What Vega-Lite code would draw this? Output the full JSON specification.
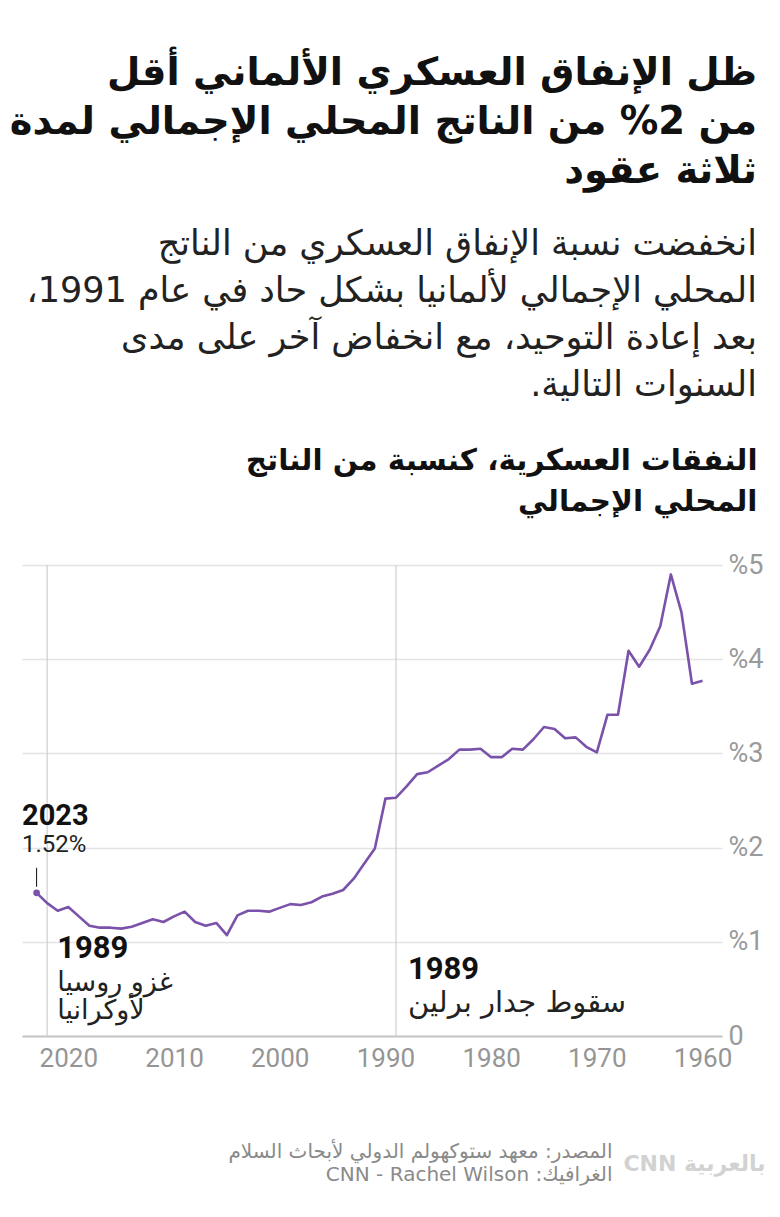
{
  "$schema": "https://vega.github.io/schema/vega-lite/v6.json",
  "width": 700,
  "height": 471,
  "autosize": {"type": "none"},
  "padding": {"left": 22, "top": 565, "right": 58, "bottom": 181},
  "background": "#ffffff",
  "config": {
    "view": {"stroke": null},
    "axisY": {
      "grid": true, "gridColor": "#e4e4e4", "gridWidth": 1.5, "ticks": false, "domain": false,
      "labelFont": "Roboto", "labelFontSize": 27, "labelColor": "#9a9a9a", "labelPadding": 6
    }
  },
  "title": {
    "text": [
      "\u200fظل الإنفاق العسكري الألماني أقل\u200f",
      "\u200fمن 2% من الناتج المحلي الإجمالي لمدة\u200f",
      "\u200fثلاثة عقود\u200f"
    ],
    "subtitle": [
      "\u200fانخفضت نسبة الإنفاق العسكري من الناتج\u200f",
      "\u200fالمحلي الإجمالي لألمانيا بشكل حاد في عام 1991،\u200f",
      "\u200fبعد إعادة التوحيد، مع انخفاض آخر على مدى\u200f",
      "\u200fالسنوات التالية.\u200f"
    ],
    "anchor": "end",
    "frame": "group",
    "align": "right",
    "dx": 35,
    "offset": 41,
    "font": "DejaVu Sans",
    "fontSize": 38.5,
    "fontWeight": "bold",
    "color": "#111111",
    "lineHeight": 49,
    "subtitleFont": "DejaVu Sans",
    "subtitleFontSize": 35,
    "subtitleFontWeight": "normal",
    "subtitleColor": "#222222",
    "subtitleLineHeight": 47,
    "subtitlePadding": 36
  },
  "datasets": {
    "spending": [
      {"year": 1960, "pct": 3.77}, {"year": 1961, "pct": 3.74}, {"year": 1962, "pct": 4.50},
      {"year": 1963, "pct": 4.90}, {"year": 1964, "pct": 4.35}, {"year": 1965, "pct": 4.10},
      {"year": 1966, "pct": 3.92}, {"year": 1967, "pct": 4.09}, {"year": 1968, "pct": 3.41},
      {"year": 1969, "pct": 3.41}, {"year": 1970, "pct": 3.01}, {"year": 1971, "pct": 3.07},
      {"year": 1972, "pct": 3.17}, {"year": 1973, "pct": 3.16}, {"year": 1974, "pct": 3.26},
      {"year": 1975, "pct": 3.28}, {"year": 1976, "pct": 3.15}, {"year": 1977, "pct": 3.04},
      {"year": 1978, "pct": 3.05}, {"year": 1979, "pct": 2.96}, {"year": 1980, "pct": 2.96},
      {"year": 1981, "pct": 3.05}, {"year": 1982, "pct": 3.04}, {"year": 1983, "pct": 3.04},
      {"year": 1984, "pct": 2.94}, {"year": 1985, "pct": 2.87}, {"year": 1986, "pct": 2.80},
      {"year": 1987, "pct": 2.78}, {"year": 1988, "pct": 2.65}, {"year": 1989, "pct": 2.53},
      {"year": 1990, "pct": 2.52}, {"year": 1991, "pct": 1.99}, {"year": 1992, "pct": 1.83},
      {"year": 1993, "pct": 1.67}, {"year": 1994, "pct": 1.55}, {"year": 1995, "pct": 1.51},
      {"year": 1996, "pct": 1.48}, {"year": 1997, "pct": 1.42}, {"year": 1998, "pct": 1.39},
      {"year": 1999, "pct": 1.40}, {"year": 2000, "pct": 1.36}, {"year": 2001, "pct": 1.32},
      {"year": 2002, "pct": 1.33}, {"year": 2003, "pct": 1.33}, {"year": 2004, "pct": 1.28},
      {"year": 2005, "pct": 1.07}, {"year": 2006, "pct": 1.20}, {"year": 2007, "pct": 1.17},
      {"year": 2008, "pct": 1.21}, {"year": 2009, "pct": 1.32}, {"year": 2010, "pct": 1.27},
      {"year": 2011, "pct": 1.21}, {"year": 2012, "pct": 1.24}, {"year": 2013, "pct": 1.20},
      {"year": 2014, "pct": 1.16}, {"year": 2015, "pct": 1.14}, {"year": 2016, "pct": 1.15},
      {"year": 2017, "pct": 1.15}, {"year": 2018, "pct": 1.17}, {"year": 2019, "pct": 1.27},
      {"year": 2020, "pct": 1.37}, {"year": 2021, "pct": 1.33}, {"year": 2022, "pct": 1.41},
      {"year": 2023, "pct": 1.52}
    ],
    "events": [
      {"year": 2022, "tag": "1989", "desc": ["غزو روسيا", "لأوكرانيا"]},
      {"year": 1989, "tag": "1989", "desc": ["سقوط جدار برلين"]}
    ]
  },
  "resolve": {"axis": {"x": "independent", "y": "independent"}},
  "layer": [
    {
      "data": {"name": "events"},
      "mark": {"type": "rule", "color": "#cfcfcf", "strokeWidth": 1.2},
      "encoding": {
        "x": {
          "field": "year", "type": "quantitative",
          "scale": {"domain": [1958.16, 2024.38], "reverse": true, "nice": false, "zero": false},
          "axis": {
            "orient": "top", "labels": false, "ticks": false, "domain": false, "grid": false,
            "title": ["\u200fالنفقات العسكرية، كنسبة من الناتج\u200f", "\u200fالمحلي الإجمالي\u200f"],
            "titleFont": "DejaVu Sans", "titleFontSize": 29.5, "titleFontWeight": "bold",
            "titleColor": "#111111", "titleAlign": "right", "titleAnchor": "end",
            "titleX": 735, "titleY": -96, "titleBaseline": "alphabetic", "titleLineHeight": 41
          }
        }
      }
    },
    {
      "data": {"name": "spending"},
      "mark": {"type": "line", "color": "#7a52aa", "strokeWidth": 2.6, "strokeJoin": "round"},
      "encoding": {
        "x": {
          "field": "year", "type": "quantitative",
          "scale": {"domain": [1958.16, 2024.38], "reverse": true, "nice": false, "zero": false},
          "axis": {
            "orient": "bottom", "values": [2020, 2010, 2000, 1990, 1980, 1970, 1960], "format": "d",
            "labelFont": "Roboto", "labelFontSize": 26, "labelColor": "#959595", "labelPadding": 9,
            "labelFlush": false, "labelOverlap": false,
            "ticks": false, "grid": false, "domain": true, "domainColor": "#c6c6c6", "domainWidth": 2,
            "title": ["المصدر: معهد ستوكهولم الدولي لأبحاث السلام", "\u202bالغرافيك: CNN - Rachel Wilson\u202c"],
            "titleFont": "DejaVu Sans", "titleFontSize": 20, "titleFontWeight": "normal",
            "titleColor": "#8a8a8a", "titleAlign": "right", "titleAnchor": "end",
            "titleX": 590, "titleY": 121, "titleBaseline": "alphabetic", "titleLineHeight": 23
          }
        },
        "y": {
          "field": "pct", "type": "quantitative",
          "scale": {"domain": [0, 5], "nice": false, "zero": true},
          "axis": {
            "orient": "right", "values": [0, 1, 2, 3, 4, 5], "title": null,
            "labelExpr": "datum.value == 0 ? '0' : '%' + datum.value"
          }
        }
      }
    },
    {
      "data": {"name": "spending"},
      "transform": [{"filter": "datum.year == 2023"}],
      "mark": {"type": "point", "filled": true, "opacity": 1, "size": 45, "color": "#7a52aa"},
      "encoding": {
        "x": {"field": "year", "type": "quantitative", "axis": null},
        "y": {
          "field": "pct", "type": "quantitative",
          "axis": {
            "orient": "left", "labels": false, "grid": false,
            "title": "CNN بالعربية", "titleAngle": 0, "titleX": 743, "titleY": 598,
            "titleAlign": "right", "titleBaseline": "middle", "titleFont": "DejaVu Sans",
            "titleFontSize": 22, "titleFontWeight": "bold", "titleColor": "#d2d2d2"
          }
        }
      }
    },
    {
      "data": {"name": "spending"},
      "transform": [{"filter": "datum.year == 2023"}],
      "mark": {"type": "rule", "color": "#111111", "strokeWidth": 1, "yOffset": -25, "y2Offset": -6},
      "encoding": {
        "x": {"field": "year", "type": "quantitative", "axis": null},
        "y": {"field": "pct", "type": "quantitative", "axis": null},
        "y2": {"field": "pct"}
      }
    },
    {
      "data": {"name": "spending"},
      "transform": [{"filter": "datum.year == 2023"}],
      "mark": {"type": "text", "align": "left", "baseline": "middle", "dx": -14.6, "dy": -77,
               "font": "Roboto", "fontWeight": "bold", "fontSize": 29, "color": "#111111"},
      "encoding": {
        "x": {"field": "year", "type": "quantitative", "axis": null},
        "y": {"field": "pct", "type": "quantitative", "axis": null},
        "text": {"field": "year", "type": "quantitative", "format": "d"}
      }
    },
    {
      "data": {"name": "spending"},
      "transform": [
        {"filter": "datum.year == 2023"},
        {"calculate": "format(datum.pct, '.2f') + '%'", "as": "pctLabel"}
      ],
      "mark": {"type": "text", "align": "left", "baseline": "middle", "dx": -14.6, "dy": -48,
               "font": "Roboto", "fontSize": 24, "color": "#222222"},
      "encoding": {
        "x": {"field": "year", "type": "quantitative", "axis": null},
        "y": {"field": "pct", "type": "quantitative", "axis": null},
        "text": {"field": "pctLabel"}
      }
    },
    {
      "data": {"name": "events"},
      "transform": [{"filter": "datum.year == 2022"}],
      "mark": {"type": "text", "align": "left", "baseline": "middle", "dx": 10, "dy": -87,
               "font": "Roboto", "fontWeight": "bold", "fontSize": 31, "color": "#111111"},
      "encoding": {
        "x": {"field": "year", "type": "quantitative", "axis": null},
        "y": {"datum": 0, "type": "quantitative", "axis": null},
        "text": {"field": "tag"}
      }
    },
    {
      "data": {"name": "events"},
      "transform": [{"filter": "datum.year == 2022"}],
      "mark": {"type": "text", "align": "left", "baseline": "alphabetic", "dx": 10, "dy": -45,
               "lineHeight": 28, "font": "DejaVu Sans", "fontSize": 27, "color": "#222222"},
      "encoding": {
        "x": {"field": "year", "type": "quantitative", "axis": null},
        "y": {"datum": 0, "type": "quantitative", "axis": null},
        "text": {"field": "desc"}
      }
    },
    {
      "data": {"name": "events"},
      "transform": [{"filter": "datum.year == 1989"}],
      "mark": {"type": "text", "align": "left", "baseline": "middle", "dx": 12, "dy": -66,
               "font": "Roboto", "fontWeight": "bold", "fontSize": 31, "color": "#111111"},
      "encoding": {
        "x": {"field": "year", "type": "quantitative", "axis": null},
        "y": {"datum": 0, "type": "quantitative", "axis": null},
        "text": {"field": "tag"}
      }
    },
    {
      "data": {"name": "events"},
      "transform": [{"filter": "datum.year == 1989"}],
      "mark": {"type": "text", "align": "left", "baseline": "alphabetic", "dx": 12, "dy": -24,
               "font": "DejaVu Sans", "fontSize": 29, "color": "#222222"},
      "encoding": {
        "x": {"field": "year", "type": "quantitative", "axis": null},
        "y": {"datum": 0, "type": "quantitative", "axis": null},
        "text": {"field": "desc"}
      }
    }
  ]
}
